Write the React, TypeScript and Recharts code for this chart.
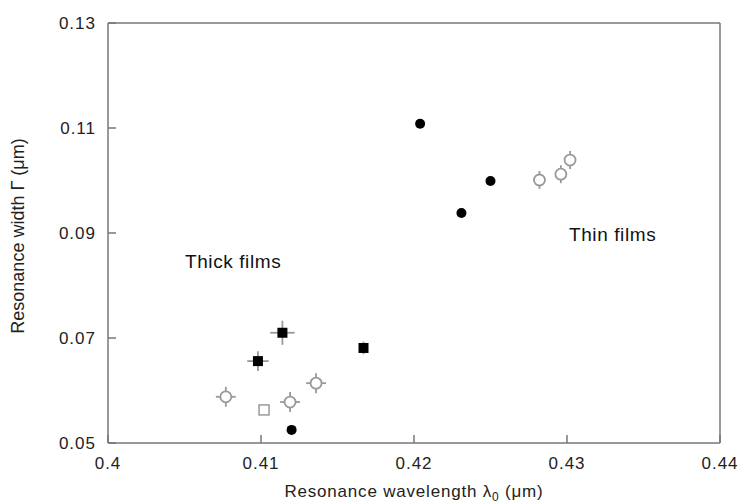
import React from 'react';
import { ScatterChart, Scatter, XAxis, YAxis, ErrorBar, ReferenceDot } from 'recharts';

const xTicks = [0.4, 0.41, 0.42, 0.43, 0.44];
const yTicks = [0.05, 0.07, 0.09, 0.11, 0.13];

// Thin films: filled circles
const filledCircleX = [0.4204, 0.4250, 0.4231, 0.4120];
const filledCircleY = [0.1108, 0.0999, 0.0938, 0.0525];

// Thick films: filled squares with error bars
const filledSquareX = [0.4098, 0.4114, 0.4167];
const filledSquareY = [0.0656, 0.0710, 0.0681];
const filledSquareEx = [0.0007, 0.0008, 0];
const filledSquareEy = [0.0019, 0.0023, 0.0012];

// Open square
const openSquareX = [0.4102];
const openSquareY = [0.0563];

// Open circles with error bars
const openCircleX = [0.4077, 0.4119, 0.4136, 0.4282, 0.4296, 0.4302];
const openCircleY = [0.0588, 0.0578, 0.0614, 0.1001, 0.1012, 0.1039];
const openCircleEx = [0.00065, 0.00065, 0.00065, 0, 0, 0];
const openCircleEy = [0.0019, 0.0019, 0.0019, 0.0017, 0.0017, 0.0017];

const zip = (xs: number[], ys: number[], exs?: number[], eys?: number[]) =>
  xs.map((x, i) => ({ x, y: ys[i], ex: exs ? exs[i] : 0, ey: eys ? eys[i] : 0 }));

const filledCircles = zip(filledCircleX, filledCircleY);
const filledSquares = zip(filledSquareX, filledSquareY, filledSquareEx, filledSquareEy);
const openSquares = zip(openSquareX, openSquareY);
const openCircles = zip(openCircleX, openCircleY, openCircleEx, openCircleEy);

const FONT = '"Liberation Sans", Arial, sans-serif';
const AXIS = '#777';
const GRAY = '#999';

const FilledCircle = (p: any) => <circle cx={p.cx} cy={p.cy} r={5} fill="#000" />;
const FilledSquare = (p: any) => <rect x={p.cx - 5} y={p.cy - 5} width={10} height={10} fill="#000" />;
const OpenSquare = (p: any) => (
  <rect x={p.cx - 5} y={p.cy - 5} width={10} height={10} fill="#fff" stroke={GRAY} strokeWidth={1.5} />
);
const OpenCircle = (p: any) => (
  <circle cx={p.cx} cy={p.cy} r={5.5} fill="#fff" stroke={GRAY} strokeWidth={1.8} />
);

const XLabel = (props: any) => {
  const vb = props.viewBox;
  return (
    <text
      x={vb.x + vb.width / 2}
      y={497}
      textAnchor="middle"
      fontFamily={FONT}
      fontSize={17}
      letterSpacing={0.8}
      fill="#222"
    >
      Resonance wavelength λ<tspan dy={4} fontSize={12}>0</tspan>
      <tspan dy={-4}> (μm)</tspan>
    </text>
  );
};

const YLabel = (props: any) => {
  const vb = props.viewBox;
  const cy = vb.y + vb.height / 2 + 3;
  return (
    <text
      x={18}
      y={cy}
      transform={`rotate(-90 18 ${cy})`}
      textAnchor="middle"
      dominantBaseline="central"
      fontFamily={FONT}
      fontSize={18}
      fill="#222"
    >
      Resonance width Γ (μm)
    </text>
  );
};

const Annot = (text: string) => (props: any) => {
  const vb = props.viewBox;
  return (
    <text
      x={vb.x}
      y={vb.y}
      dominantBaseline="central"
      fontFamily={FONT}
      fontSize={19}
      letterSpacing={0.6}
      fill="#111"
    >
      {text}
    </text>
  );
};

const tickStyle = { fill: '#222', fontSize: 17, fontFamily: FONT, letterSpacing: 1 };

export default function App() {
  return (
    <div style={{ position: 'absolute', left: 0, top: 0, background: '#fff' }}>
      <ScatterChart width={744} height={504} margin={{ top: 22, right: 23, bottom: 0, left: 0 }}>
        <XAxis
          dataKey="x"
          type="number"
          domain={[0.4, 0.44]}
          ticks={xTicks}
          interval={0}
          tickSize={-8}
          tickMargin={22}
          height={61}
          stroke={AXIS}
          strokeWidth={1.5}
          tick={tickStyle}
          label={<XLabel />}
          allowDataOverflow
        />
        <XAxis
          xAxisId="top"
          orientation="top"
          type="number"
          domain={[0.4, 0.44]}
          ticks={xTicks}
          interval={0}
          tickSize={-8}
          tickFormatter={() => ''}
          height={1}
          stroke={AXIS}
          strokeWidth={1.5}
        />
        <YAxis
          dataKey="y"
          type="number"
          domain={[0.05, 0.13]}
          ticks={yTicks}
          interval={0}
          tickSize={-8}
          tickMargin={20}
          width={108}
          stroke={AXIS}
          strokeWidth={1.5}
          tick={tickStyle}
          label={<YLabel />}
          allowDataOverflow
        />
        <YAxis
          yAxisId="right"
          orientation="right"
          type="number"
          domain={[0.05, 0.13]}
          ticks={yTicks}
          interval={0}
          tickSize={-8}
          tickFormatter={() => ''}
          width={1}
          stroke={AXIS}
          strokeWidth={1.5}
        />
        <Scatter data={openCircles} shape={OpenCircle} isAnimationActive={false}>
          <ErrorBar dataKey="ex" direction="x" width={0} stroke={GRAY} strokeWidth={1.8} />
          <ErrorBar dataKey="ey" direction="y" width={0} stroke={GRAY} strokeWidth={1.8} />
        </Scatter>
        <Scatter data={openSquares} shape={OpenSquare} isAnimationActive={false} />
        <Scatter data={filledSquares} shape={FilledSquare} isAnimationActive={false}>
          <ErrorBar dataKey="ex" direction="x" width={0} stroke={GRAY} strokeWidth={1.8} />
          <ErrorBar dataKey="ey" direction="y" width={0} stroke={GRAY} strokeWidth={1.8} />
        </Scatter>
        <Scatter data={filledCircles} shape={FilledCircle} isAnimationActive={false} />
        <ReferenceDot x={0.40503} y={0.0845} r={0} stroke="none" fill="none" label={Annot('Thick films')} />
        <ReferenceDot x={0.43013} y={0.0898} r={0} stroke="none" fill="none" label={Annot('Thin films')} />
      </ScatterChart>
    </div>
  );
}
